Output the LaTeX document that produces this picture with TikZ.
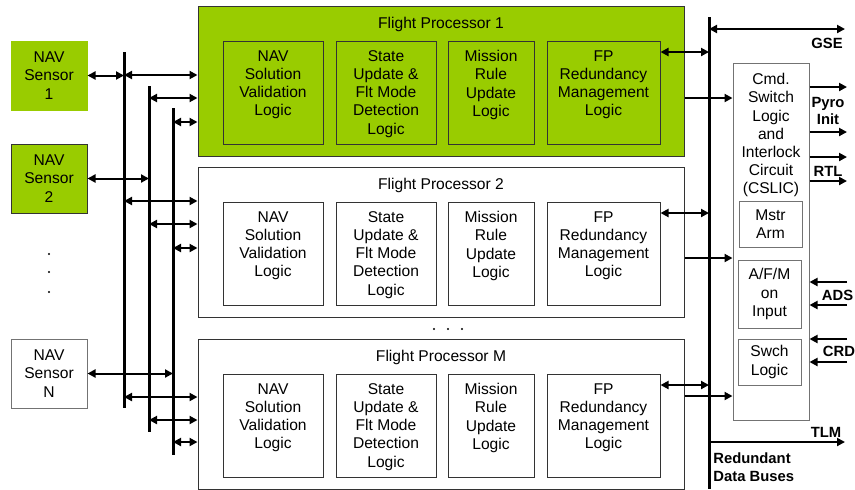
\documentclass[tikz,border=0pt]{standalone}
\usepackage{fontspec}
\setmainfont{Liberation Sans}
\usetikzlibrary{arrows.meta}
\definecolor{fpgreen}{RGB}{153,204,0}
\tikzset{
  boxsize/.style 2 args={minimum width=#1*0.5pt, minimum height=#2*0.5pt},
  blk/.style={draw=black!80, line width=0.5pt, inner sep=0pt},
  txt/.style={align=center, inner sep=0pt, font=\fontsize{7.8}{9.1}\selectfont},
  tag/.style={align=center, inner sep=0pt, font=\fontsize{7.4}{9}\selectfont\bfseries},
  bus/.style={line width=1.5pt},
  link/.style={line width=1pt, -{Triangle[length=4pt,width=4pt]}},
  dlink/.style={line width=1pt, {Triangle[length=4pt,width=4pt]}-{Triangle[length=4pt,width=4pt]}}
}
\begin{document}
\begin{tikzpicture}[x=0.5pt, y=-0.5pt]
\useasboundingbox (0,0) rectangle (855,489);
\node[blk, txt, boxsize={76}{69}, fill=fpgreen, draw=fpgreen] (s1) at (49,75.5) {NAV\\Sensor\\1};
\node[blk, txt, boxsize={76}{69}, fill=fpgreen] (s2) at (49,178.5) {NAV\\Sensor\\2};
\node[blk, txt, boxsize={76}{69}, draw=black!55] (sN) at (49,373.5) {NAV\\Sensor\\N};
\foreach \y in {254,272,292}
  \fill (49,\y) circle (1.2);
\foreach \x in {434,448,462}
  \fill (\x,329) circle (1.2);
\foreach \p/\t/\f in {1/6/fpgreen, 2/167/white, M/339/white}
  {\node[blk, boxsize={486}{150}, fill=\f] (fp\p) at (441,\t+75) {};
   \node[txt, anchor=north] at ([yshift=-5.5pt]fp\p.north) {Flight Processor \p};
   \foreach \n/\x/\w/\s in {nav/273/100/{NAV\\Solution\\Validation\\Logic},
       su/386/100/{State\\Update \&\\Flt Mode\\Detection\\Logic},
       mr/491/86/{Mission\\Rule\\Update\\Logic},
       rm/603.5/113/{FP\\Redundancy\\Management\\Logic}}
     {\node[blk, boxsize={\w}{103}] (fp\p-\n) at (\x,\t+86.5) {};
      \node[txt, anchor=north] at ([yshift=-4.7pt]fp\p-\n.north) {\s};};}
\foreach \b/\x/\ya/\yb in {A/124/52/408, B/149/86/432, C/173/108/455}
  {\coordinate (b\b) at (\x,\ya);
   \draw[bus] (b\b) -- (\x,\yb);}
\draw[dlink] (s1.east) -- (s1.east -| bA);
\draw[dlink] (s2.east) -- (s2.east -| bB);
\draw[dlink] (sN.east) -- (sN.east -| bC);
\foreach \p/\ya/\yb/\yc in {1/75/98/122, 2/201/224/248, M/397/420/442}
  {\draw[dlink] (bA |- 0,\ya) -- (fp\p.west |- 0,\ya);
   \draw[dlink] (bB |- 0,\yb) -- (fp\p.west |- 0,\yb);
   \draw[dlink] (bC |- 0,\yc) -- (fp\p.west |- 0,\yc);}
\coordinate (bus) at (709,17);
\draw[bus] (bus) -- (709,489);
\node[blk, boxsize={76}{357}, draw=black!55] (cslic) at (771,241.5) {};
\node[txt, anchor=north] at ([yshift=-5.2pt]cslic.north) {Cmd.\\Switch\\Logic\\and\\Interlock\\Circuit\\(CSLIC)};
\node[blk, txt, boxsize={63}{46}, draw=black!55] (arm) at (770.5,224) {Mstr\\Arm};
\node[blk, txt, boxsize={63}{68}, draw=black!55] (afm) at (769.5,294) {A/F/M\\on\\Input};
\node[blk, txt, boxsize={63}{46}, draw=black!55] (swch) at (769.5,362) {Swch\\Logic};
\foreach \p/\ya/\yb in {1/52/98, 2/213/258, M/385/396}
  {\draw[dlink] (fp\p-rm.east |- 0,\ya) -- (bus |- 0,\ya);
   \draw[link] (fp\p.east |- 0,\yb) -- (cslic.west |- 0,\yb);}
\coordinate (gse) at (845,29);
\coordinate (tlm) at (845,442);
\coordinate (out) at (847,0);
\draw[dlink] (bus |- gse) -- (gse);
\draw[link] (bus |- tlm) -- (tlm);
\foreach \y in {87,132,157,181}
  \draw[link] (cslic.east |- 0,\y) -- (out |- 0,\y);
\foreach \y in {282,305,339,362}
  \draw[link] (out |- 0,\y) -- (cslic.east |- 0,\y);
\node[tag] at (827,43) {GSE};
\node[tag, font=\fontsize{7.4}{8.2}\selectfont\bfseries] at (828,111) {Pyro\\Init};
\node[tag] at (828,171) {RTL};
\node[tag] at (837.5,295) {ADS};
\node[tag] at (839,351) {CRD};
\node[tag] at (826,432) {TLM};
\node[tag, align=left, anchor=west] at (713,467) {Redundant\\Data Buses};
\end{tikzpicture}
\end{document}
